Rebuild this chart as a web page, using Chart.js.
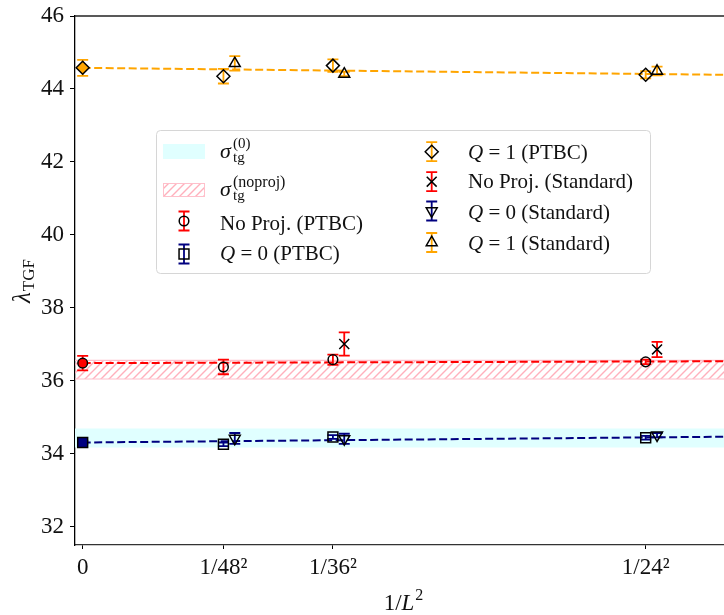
<!DOCTYPE html>
<html>
<head>
<meta charset="utf-8">
<script src="https://cdn.jsdelivr.net/npm/chart.js@4.4.1/dist/chart.umd.min.js"></script>
<style>
  html, body { margin: 0; padding: 0; background: #fff; }
  canvas { display: block; }
</style>
</head>
<body>
<canvas id="tgf" width="724" height="615"></canvas>
<script>
// Lattice sizes, drawn at x = 1/L^2
const sizes = [48, 36, 24];
const xTickValues = [0, 1 / 48 ** 2, 1 / 36 ** 2, 1 / 24 ** 2];
const xTickLabels = ['0', '1/48²', '1/36²', '1/24²'];
const yTicks = [32, 34, 36, 38, 40, 42, 44, 46];
const stdShift = 3.5e-5; // standard-update runs are nudged right so bars don't overlap

// PTBC runs
const noProjPtbc = [36.38, 36.58, 36.52];
const noProjPtbcErr = [0.20, 0.14, 0.06];
const q0Ptbc = [34.26, 34.46, 34.44];
const q0PtbcErr = [0.05, 0.05, 0.05];
const q1Ptbc = [44.35, 44.64, 44.39];
const q1PtbcErr = [0.20, 0.17, 0.10];

// Standard runs
const noProjStd = [null, 37.01, 36.86];
const noProjStdErr = [null, 0.32, 0.21];
const q0Std = [34.42, 34.41, 34.51];
const q0StdErr = [0.15, 0.14, 0.06];
const q1Std = [44.70, 44.41, 44.49];
const q1StdErr = [0.20, 0.06, 0.12];

// continuum limits: No Proj., Q=0, Q=1
const contValue = [36.485, 34.31, 44.58];
const contErr = [0.20, 0.04, 0.22];

// linear fits, value at x=0 and at x=fitEndX
const fitEndX = 0.002;
const fitNoProj = [36.485, 36.537];
const fitQ0 = [34.31, 34.47];
const fitQ1 = [44.58, 44.385];

// sigma_tg bands [low, high]
const bandQ0 = [34.17, 34.69];
const bandNoProj = [36.05, 36.56];

const RED = '#ff0000', NAVY = '#000080', ORANGE = '#ffa500';
const CYAN = '#e0ffff', PINK = '#ffc0cb';
const SERIF = "'Liberation Serif', 'DejaVu Serif', serif";

const xL = sizes.map(L => 1 / (L * L));
const xStd = xL.map(x => x + stdShift);

function hatch() {
  const c = document.createElement('canvas');
  c.width = 8; c.height = 8;
  const g = c.getContext('2d');
  g.strokeStyle = '#ffb0bc';
  g.lineWidth = 1.4;
  g.beginPath();
  g.moveTo(0, 8); g.lineTo(8, 0);
  g.moveTo(-2, 2); g.lineTo(2, -2);
  g.moveTo(6, 10); g.lineTo(10, 6);
  g.stroke();
  return document.getElementById('tgf').getContext('2d').createPattern(c, 'repeat');
}

function points(xs, ys, errs) {
  return xs.map((x, i) => ({ x, y: ys[i], err: errs[i] })).filter(p => p.y != null);
}

function series(label, xs, ys, errs, color, style, radius, extra) {
  return Object.assign({
    label,
    showLine: false,
    data: points(xs, ys, errs),
    errColor: color,
    pointStyle: style,
    pointRadius: radius,
    pointBorderColor: '#000',
    pointBackgroundColor: 'rgba(0,0,0,0)',
    pointBorderWidth: 1.5,
    order: 1,
  }, extra || {});
}

function hline(y, color, width, extra) {
  return Object.assign({
    type: 'line',
    showLine: true,
    data: [{ x: -0.001, y }, { x: 0.004, y }],
    borderColor: color,
    borderWidth: width,
    pointRadius: 0,
    fill: false,
    order: 10,
  }, extra || {});
}

function fitLine(vals, color) {
  return {
    type: 'line',
    showLine: true,
    data: [{ x: 0, y: vals[0] }, { x: fitEndX, y: vals[1] }],
    borderColor: color,
    borderWidth: 2,
    borderDash: [8, 3.5],
    pointRadius: 0,
    fill: false,
    order: 5,
  };
}

const datasets = [
  hline(bandQ0[0], CYAN, 0),
  hline(bandQ0[1], CYAN, 0, { fill: '-1', backgroundColor: CYAN }),
  hline(bandNoProj[0], PINK, 1.2),
  hline(bandNoProj[1], PINK, 1.2, { fill: '-1', backgroundColor: hatch() }),
  fitLine(fitNoProj, RED),
  fitLine(fitQ0, NAVY),
  fitLine(fitQ1, ORANGE),
  series('No Proj. (PTBC)', xL, noProjPtbc, noProjPtbcErr, RED, 'circle', 4.8),
  series('Q = 0 (PTBC)', xL, q0Ptbc, q0PtbcErr, NAVY, 'rect', 7),
  series('Q = 1 (PTBC)', xL, q1Ptbc, q1PtbcErr, ORANGE, 'rectRot', 6.5),
  series('No Proj. (Standard)', xStd, noProjStd, noProjStdErr, RED, 'crossRot', 7),
  series('Q = 0 (Standard)', xStd, q0Std, q0StdErr, NAVY, 'triangle', 6.3, { pointRotation: 180 }),
  series('Q = 1 (Standard)', xStd, q1Std, q1StdErr, ORANGE, 'triangle', 6.3),
  // continuum extrapolations, filled
  series('', [0], [contValue[0]], [contErr[0]], RED, 'circle', 4.8, { pointBackgroundColor: RED, order: 0 }),
  series('', [0], [contValue[1]], [contErr[1]], NAVY, 'rect', 7, { pointBackgroundColor: NAVY, order: 0 }),
  series('', [0], [contValue[2]], [contErr[2]], ORANGE, 'rectRot', 6.5, { pointBackgroundColor: ORANGE, order: 0 }),
];

function bar(ctx, px, top, bot, color, cap) {
  ctx.save();
  ctx.strokeStyle = color;
  ctx.lineWidth = 1.8;
  ctx.beginPath();
  ctx.moveTo(px, top); ctx.lineTo(px, bot);
  ctx.moveTo(px - cap, top); ctx.lineTo(px + cap, top);
  ctx.moveTo(px - cap, bot); ctx.lineTo(px + cap, bot);
  ctx.stroke();
  ctx.restore();
}

const errorBars = {
  id: 'errorBars',
  beforeDatasetDraw(chart, args) {
    const ds = chart.data.datasets[args.index];
    if (!ds.errColor) return;
    const { ctx, scales: { x, y } } = chart;
    ds.data.forEach(p => {
      bar(ctx, x.getPixelForValue(p.x), y.getPixelForValue(p.y + p.err),
        y.getPixelForValue(p.y - p.err), ds.errColor, 5.5);
    });
  }
};

function marker(ctx, style, x, y, r, rotation) {
  ctx.save();
  ctx.strokeStyle = '#000';
  ctx.fillStyle = 'rgba(0,0,0,0)';
  ctx.lineWidth = 1.5;
  Chart.helpers.drawPoint(ctx, { pointStyle: style, radius: r, rotation: rotation || 0, borderWidth: 1.5 }, x, y);
  ctx.restore();
}

// draws runs of text with their own font and baseline
function rich(ctx, parts) {
  parts.forEach(p => {
    ctx.font = p.f;
    ctx.fillText(p.t, p.x, p.y);
  });
}

const italic = s => `italic ${s}px ${SERIF}`;
const roman = s => `${s}px ${SERIF}`;

function mathLabel(ctx, x, y, q, rest) {
  ctx.font = italic(21);
  ctx.fillText(q, x, y);
  const w = ctx.measureText(q).width;
  ctx.font = roman(21);
  ctx.fillText(rest, x + w, y);
}

const legendBox = {
  id: 'legendBox',
  afterDatasetsDraw(chart) {
    const ctx = chart.ctx;
    ctx.save();
    ctx.fillStyle = 'rgba(255,255,255,0.8)';
    ctx.strokeStyle = '#d6d6d6';
    ctx.lineWidth = 1;
    ctx.beginPath();
    ctx.roundRect(156.5, 130.5, 494, 143, 4);
    ctx.fill();
    ctx.stroke();

    // band swatches
    ctx.fillStyle = CYAN;
    ctx.fillRect(163, 144, 42, 15);
    ctx.fillStyle = datasets[3].backgroundColor;
    ctx.fillRect(163, 183, 42, 14);
    ctx.strokeStyle = PINK;
    ctx.strokeRect(163.5, 183.5, 41, 13);

    ctx.fillStyle = '#111';
    ctx.textBaseline = 'alphabetic';
    rich(ctx, [
      { t: 'σ', f: italic(22), x: 220, y: 158 },
      { t: 'tg', f: roman(15), x: 233, y: 162 },
      { t: '(0)', f: roman(15), x: 233, y: 148 },
      { t: 'σ', f: italic(22), x: 220, y: 196 },
      { t: 'tg', f: roman(15), x: 233, y: 200 },
      { t: '(noproj)', f: roman(16), x: 233, y: 187 },
    ]);
    ctx.font = roman(21);
    ctx.fillText('No Proj. (PTBC)', 220, 230);
    mathLabel(ctx, 220, 260, 'Q', ' = 0 (PTBC)');
    mathLabel(ctx, 468, 159, 'Q', ' = 1 (PTBC)');
    ctx.font = roman(21);
    ctx.fillText('No Proj. (Standard)', 468, 188);
    mathLabel(ctx, 468, 219, 'Q', ' = 0 (Standard)');
    mathLabel(ctx, 468, 250, 'Q', ' = 1 (Standard)');

    // marker handles with their error bars
    const handles = [
      [184, 221, RED, 'circle', 4.8, 0],
      [184, 254, NAVY, 'rect', 7, 0],
      [431.7, 151.7, ORANGE, 'rectRot', 6.5, 0],
      [431.7, 181.7, RED, 'crossRot', 7, 0],
      [431.7, 211, NAVY, 'triangle', 6.3, 180],
      [431.7, 242.5, ORANGE, 'triangle', 6.3, 0],
    ];
    handles.forEach(([x, y, c, s, r, rot]) => {
      bar(ctx, x, y - 9.5, y + 9.5, c, 5.5);
      marker(ctx, s, x, y, r, rot);
    });
    ctx.restore();
  }
};

const axisTitles = {
  id: 'axisTitles',
  afterDraw(chart) {
    const { ctx, chartArea: a } = chart;
    ctx.save();
    // top frame line
    ctx.strokeStyle = '#222';
    ctx.lineWidth = 1.3;
    ctx.beginPath();
    ctx.moveTo(a.left, a.top);
    ctx.lineTo(a.right, a.top);
    ctx.stroke();

    ctx.fillStyle = '#111';
    ctx.textBaseline = 'alphabetic';
    // x title: 1/L^2
    ctx.font = roman(23);
    const w1 = ctx.measureText('1/').width;
    ctx.font = italic(23);
    const w2 = ctx.measureText('L').width;
    ctx.font = roman(16);
    const w3 = ctx.measureText('2').width;
    let x0 = 403 - (w1 + w2 + w3) / 2;
    rich(ctx, [
      { t: '1/', f: roman(23), x: x0, y: 610 },
      { t: 'L', f: italic(23), x: x0 + w1, y: 610 },
      { t: '2', f: roman(16), x: x0 + w1 + w2 + 1, y: 600 },
    ]);

    // y title: lambda_TGF, rotated
    ctx.translate(0, 281.5);
    ctx.rotate(-Math.PI / 2);
    ctx.font = italic(25);
    const l1 = ctx.measureText('λ').width;
    ctx.font = roman(17);
    const l2 = ctx.measureText('TGF').width;
    const u0 = -(l1 + l2) / 2;
    rich(ctx, [
      { t: 'λ', f: italic(25), x: u0, y: 30 },
      { t: 'TGF', f: roman(17), x: u0 + l1 + 1, y: 34 },
    ]);
    ctx.restore();
  }
};

new Chart(document.getElementById('tgf'), {
  type: 'scatter',
  data: { datasets },
  options: {
    responsive: false,
    animation: false,
    events: [],
    layout: { autoPadding: false, padding: { left: 0, right: 0, top: 16, bottom: 0 } },
    plugins: { legend: { display: false }, tooltip: { enabled: false } },
    scales: {
      x: {
        type: 'linear',
        min: -2.37e-5,
        max: 0.0019776,
        afterBuildTicks: s => { s.ticks = xTickValues.map(v => ({ value: v })); },
        afterFit: s => { s.height = 70; s.paddingLeft = 0; s.paddingRight = 0; },
        ticks: {
          callback: v => xTickLabels[xTickValues.indexOf(v)],
          font: { family: SERIF, size: 23 },
          color: '#111',
          padding: 5,
          maxRotation: 0,
          autoSkip: false,
        },
        grid: { drawOnChartArea: false, tickLength: 4, color: '#000' },
        border: { color: '#333', width: 1.3 },
      },
      y: {
        min: 31.5,
        max: 46,
        afterBuildTicks: s => { s.ticks = yTicks.map(v => ({ value: v })); },
        afterFit: s => { s.width = 75; s.paddingTop = 0; s.paddingBottom = 0; },
        ticks: {
          font: { family: SERIF, size: 23 },
          color: '#111',
          padding: 6,
        },
        grid: { drawOnChartArea: false, tickLength: 5, color: '#000' },
        border: { color: '#000', width: 1.3 },
      },
    },
  },
  plugins: [errorBars, legendBox, axisTitles],
});
</script>
</body>
</html>
